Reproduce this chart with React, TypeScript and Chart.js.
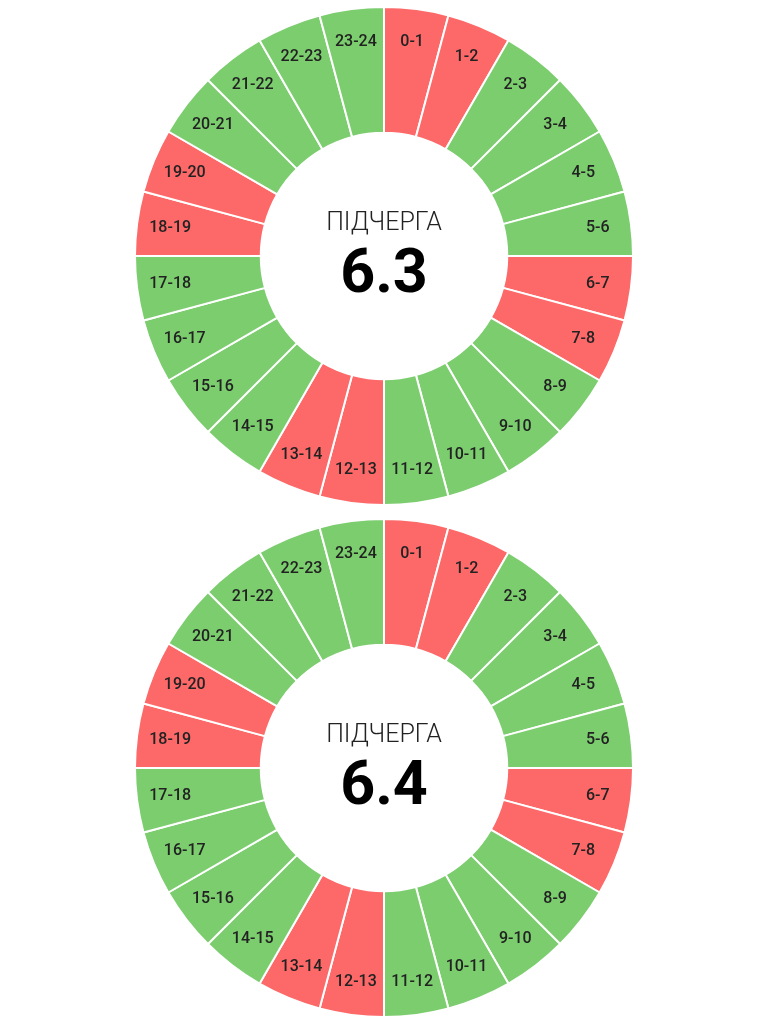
import React, { useEffect, useRef } from "react";
import { Chart, registerables } from "chart.js";

Chart.register(...registerables);

const hourLabels: string[] = [
  "0-1", "1-2", "2-3", "3-4", "4-5", "5-6", "6-7", "7-8", "8-9", "9-10", "10-11", "11-12",
  "12-13", "13-14", "14-15", "15-16", "16-17", "17-18", "18-19", "19-20", "20-21", "21-22", "22-23", "23-24",
];
const hourValues: number[] = [1, 1, 1, 1, 1, 1, 1, 1, 1, 1, 1, 1, 1, 1, 1, 1, 1, 1, 1, 1, 1, 1, 1, 1];
// 1 = outage (red), 0 = power on (green)
const outage63: number[] = [1, 1, 0, 0, 0, 0, 1, 1, 0, 0, 0, 0, 1, 1, 0, 0, 0, 0, 1, 1, 0, 0, 0, 0];
const outage64: number[] = [1, 1, 0, 0, 0, 0, 1, 1, 0, 0, 0, 0, 1, 1, 0, 0, 0, 0, 1, 1, 0, 0, 0, 0];
const queueTitle = "ПІДЧЕРГА";
const queueNames: string[] = ["6.3", "6.4"];

const RED = "#fd6868";
const GREEN = "#7bcd6e";

const labelPlugin = {
  id: "segLabels",
  afterDatasetsDraw(chart: any) {
    const ctx = chart.ctx;
    const meta = chart.getDatasetMeta(0);
    ctx.save();
    ctx.font = "500 16px Roboto";
    ctx.fillStyle = "#222222";
    ctx.textAlign = "center";
    ctx.textBaseline = "middle";
    meta.data.forEach((arc: any, i: number) => {
      const p = arc.getProps(["x", "y", "startAngle", "endAngle", "innerRadius", "outerRadius"], true);
      const mid = (p.startAngle + p.endAngle) / 2;
      const r = p.innerRadius + (p.outerRadius - p.innerRadius) * 0.735;
      ctx.fillText(chart.data.labels[i], p.x + Math.cos(mid) * r, p.y + Math.sin(mid) * r);
    });
    ctx.restore();
  },
};

const centerPlugin = {
  id: "centerText",
  afterDraw(chart: any) {
    const ctx = chart.ctx;
    const arc = chart.getDatasetMeta(0).data[0];
    if (!arc) return;
    const cx = arc.x;
    const cy = arc.y;
    ctx.save();
    ctx.textAlign = "center";
    ctx.textBaseline = "alphabetic";
    ctx.fillStyle = "#222222";
    ctx.font = "300 25px Roboto";
    ctx.fillText(chart.options.plugins.centerText.title, cx, cy - 26);
    ctx.fillStyle = "#000000";
    ctx.font = "bold 61px Roboto";
    ctx.fillText(chart.options.plugins.centerText.name, cx, cy + 36);
    ctx.restore();
  },
};

function Donut({ outage, name }: { outage: number[]; name: string }) {
  const ref = useRef<HTMLCanvasElement | null>(null);
  useEffect(() => {
    if (!ref.current) return;
    const chart = new Chart(ref.current, {
      type: "doughnut",
      data: {
        labels: hourLabels,
        datasets: [
          {
            data: hourValues,
            backgroundColor: outage.map((o) => (o ? RED : GREEN)),
            borderColor: "#ffffff",
            borderWidth: 2,
          },
        ],
      },
      options: {
        animation: false,
        responsive: false,
        cutout: "49.5%",
        layout: { padding: 6 },
        plugins: {
          legend: { display: false },
          tooltip: { enabled: false },
          centerText: { title: queueTitle, name },
        } as any,
      },
      plugins: [labelPlugin, centerPlugin],
    });
    return () => chart.destroy();
  }, [outage, name]);
  return <canvas ref={ref} width={768} height={512} style={{ display: "block", width: 768, height: 512 }} />;
}

export default function App() {
  return (
    <div style={{ position: "absolute", left: 0, top: 0, width: 768, height: 1024, background: "#ffffff" }}>
      <Donut outage={outage63} name={queueNames[0]} />
      <Donut outage={outage64} name={queueNames[1]} />
    </div>
  );
}
